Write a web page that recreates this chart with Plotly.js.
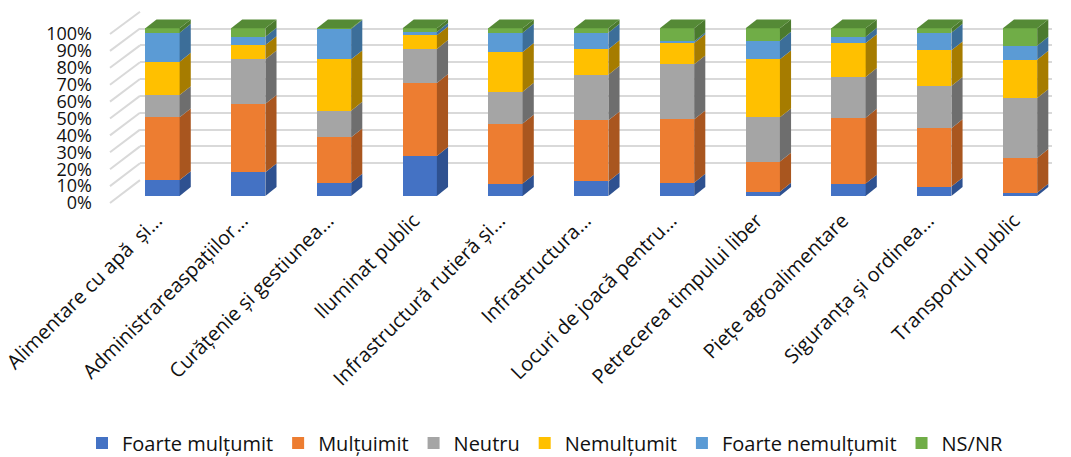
<!DOCTYPE html>
<html>
<head>
<meta charset="utf-8">
<script src="https://cdn.plot.ly/plotly-3.0.1.min.js"></script>
<style>html,body{margin:0;padding:0;background:#fff;}#chart{width:1071px;height:457px;}</style>
</head>
<body>
<div id="chart"></div>
<script>
// ---- data ----
const categories = [
  "Alimentare cu apă  și...",
  "Administrareaspațiilor...",
  "Curățenie și gestiunea...",
  "Iluminat public",
  "Infrastructură rutieră și...",
  "Infrastructura...",
  "Locuri de joacă pentru...",
  "Petrecerea timpului liber",
  "Piețe agroalimentare",
  "Siguranța și ordinea...",
  "Transportul public"
];
const seriesNames = ["Foarte mulțumit", "Mulțuimit", "Neutru", "Nemulțumit", "Foarte nemulțumit", "NS/NR"];
const foarteMultumit   = [9.5, 14.1, 7.9, 23.9, 7.4, 8.7, 7.9, 2.6, 7.4, 5.6, 2.0];
const multumit         = [37.4, 40.9, 27.1, 43.5, 35.8, 36.4, 37.8, 17.9, 39.3, 34.8, 20.7];
const neutru           = [13.3, 26.5, 15.9, 20.3, 19.0, 27.2, 32.8, 26.4, 24.3, 25.2, 35.7];
const nemultumit       = [19.9, 8.5, 30.6, 8.1, 23.7, 15.2, 12.7, 34.6, 20.2, 21.3, 22.9];
const foarteNemultumit = [17.3, 5.0, 18.1, 2.0, 11.5, 9.9, 1.0, 11.1, 3.8, 10.5, 8.3];
const nsNr             = [2.6, 5.0, 0.4, 2.2, 2.6, 2.6, 7.8, 7.4, 5.0, 2.6, 10.4];
const yTickValues = [0, 10, 20, 30, 40, 50, 60, 70, 80, 90, 100];

// ---- styles ----
const frontColors = ["#4472C4", "#ED7D31", "#A5A5A5", "#FFC000", "#5B9BD5", "#70AD47"];
const sideColors  = ["#2E5190", "#A9561F", "#6E6E6E", "#A67C00", "#3C6E99", "#4B7A2E"];
const topColor = "#558A36";
const W = 1071, H = 457;
const py = p => 1 - p / H;
const px = p => p / W;

const seriesValues = [foarteMultumit, multumit, neutru, nemultumit, foarteNemultumit, nsNr];
const idx = categories.map((c, i) => i);

// bar geometry (in axis units)
const barWidth = 0.40;
const depthX = 0.13;   // category units
const depthY = 5.3;    // percent units

const traces = seriesNames.map((name, s) => ({
  type: "bar",
  name: name,
  x: idx,
  y: seriesValues[s],
  xaxis: "x2",
  yaxis: "y2",
  marker: {color: frontColors[s], line: {width: 0}},
  width: barWidth,
  hoverinfo: "skip"
}));
traces.push({type: "scatter", x: [], y: [], xaxis: "x3", yaxis: "y3", showlegend: false});
traces.push({type: "scatter", x: [], y: [], xaxis: "x", yaxis: "y", showlegend: false});

// 3D side and top faces derived from the data
const shapes = [];
idx.forEach(i => {
  let base = 0;
  const xr = i + barWidth / 2, xl = i - barWidth / 2;
  seriesValues.forEach((vals, s) => {
    const top = base + vals[i];
    shapes.push({
      type: "path", xref: "x2", yref: "y2", layer: "above",
      path: `M${xr},${base} L${xr + depthX},${base + depthY} L${xr + depthX},${top + depthY} L${xr},${top} Z`,
      fillcolor: sideColors[s], line: {width: 0}
    });
    base = top;
  });
  shapes.push({
    type: "path", xref: "x2", yref: "y2", layer: "above",
    path: `M${xl},${base} L${xl + depthX},${base + depthY} L${xr + depthX},${base + depthY} L${xr},${base} Z`,
    fillcolor: topColor, line: {width: 0}
  });
});

// left wall diagonal gridlines
const frontY = v => 203 - 1.69 * v;
const backY  = v => 180.1 - 1.684 * v;
yTickValues.forEach(v => {
  shapes.push({
    type: "line", xref: "paper", yref: "paper", layer: "below",
    x0: px(110), y0: py(frontY(v)), x1: px(140), y1: py(backY(v)),
    line: {color: "#d9d9d9", width: 2}
  });
});

const layout = {
  width: W, height: H,
  margin: {l: 0, r: 0, t: 0, b: 0, autoexpand: false},
  paper_bgcolor: "#ffffff",
  plot_bgcolor: "rgba(0,0,0,0)",
  barmode: "stack",
  showlegend: true,
  font: {family: "Open Sans, sans-serif", color: "#111111"},
  xaxis: {domain: [px(140), px(1052)], range: [0, 1], showgrid: false, zeroline: false,
          showticklabels: false, showline: false, fixedrange: true},
  yaxis: {domain: [py(180.1 + 0.842), py(11.7 - 0.842)], range: [-0.5, 100.5], dtick: 10, tick0: 0,
          showgrid: true, gridcolor: "#d9d9d9", gridwidth: 2, zeroline: false,
          showticklabels: false, showline: false, fixedrange: true},
  xaxis2: {domain: [px(119.6), px(1062.9)], range: [-0.5, 10.5], anchor: "y2",
           tickvals: idx, ticktext: categories, tickangle: -45,
           tickfont: {size: 20, family: "Open Sans, sans-serif", color: "#111111"},
           showgrid: false, zeroline: false, showline: false, ticks: "",
           ticklabelstandoff: 8, ticklabelshift: -6, ticklabeloverflow: "allow", fixedrange: true},
  yaxis2: {domain: [py(196), py(196 - 110 * 1.677)], range: [0, 110], anchor: "x2",
           showgrid: false, zeroline: false, showticklabels: false, showline: false, fixedrange: true},
  xaxis3: {domain: [px(93), px(97)], range: [0, 1], anchor: "y3", visible: false, fixedrange: true},
  yaxis3: {domain: [py(203 + 0.845), py(34 - 0.845)], range: [-0.5, 100.5], anchor: "x3",
           tickvals: yTickValues, ticktext: yTickValues.map(v => v + "%"),
           tickfont: {size: 18, family: "Open Sans, sans-serif", color: "#111111"},
           showgrid: false, zeroline: false, showline: false, ticks: "", ticklabeloverflow: "allow",
           fixedrange: true},
  legend: {orientation: "h", x: px(82), xanchor: "left", y: py(443), yanchor: "middle",
           font: {size: 20, family: "Open Sans, sans-serif", color: "#111111"},
           itemwidth: 30, traceorder: "normal", bgcolor: "rgba(0,0,0,0)"},
  shapes: shapes
};

Plotly.newPlot("chart", traces, layout, {displayModeBar: false, staticPlot: true});
</script>
</body>
</html>
